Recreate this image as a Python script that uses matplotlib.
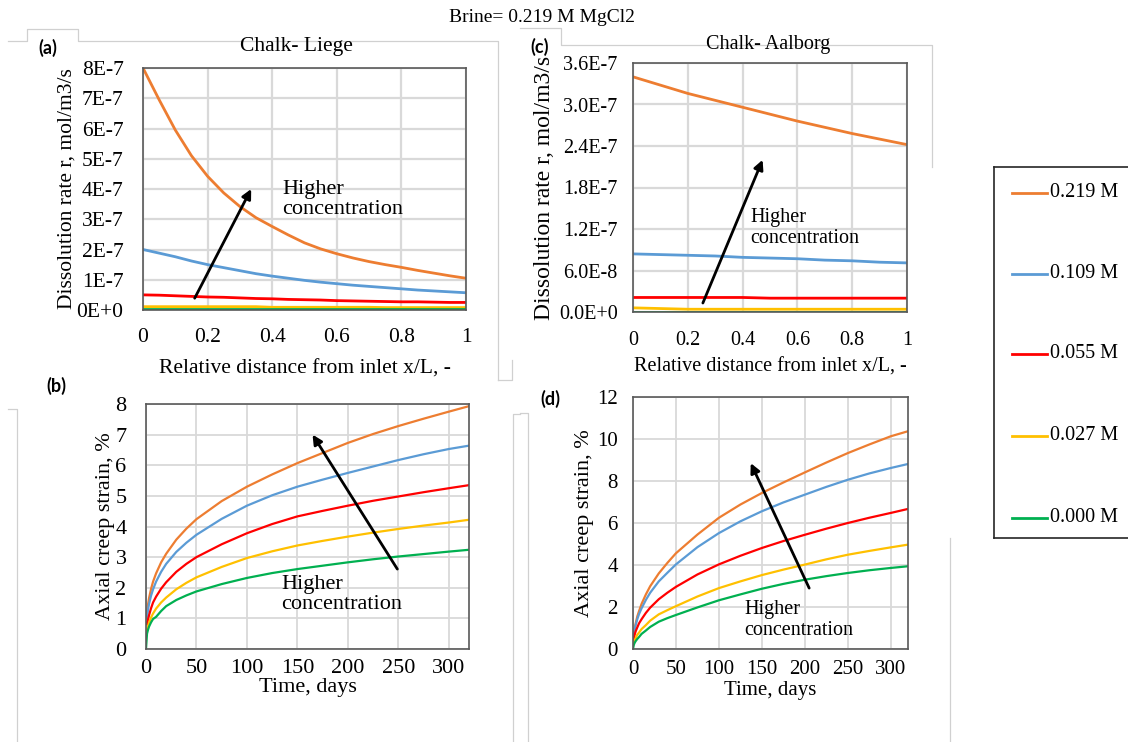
import matplotlib
matplotlib.use("Agg")
import matplotlib.pyplot as plt
from matplotlib.lines import Line2D

W, H = 1128, 742

# series colours / legend
conc_labels = ["0.219 M", "0.109 M", "0.055 M", "0.027 M", "0.000 M"]
colors = ["#ED7D31", "#5B9BD5", "#FF0000", "#FFC000", "#00B050"]

# (a) Chalk- Liege, dissolution rate (x1e-7)
a_x = [0, 0.05, 0.1, 0.15, 0.2, 0.25, 0.3, 0.35, 0.4, 0.45, 0.5,
       0.55, 0.6, 0.65, 0.7, 0.75, 0.8, 0.85, 0.9, 0.95, 1.0]
a_orange = [8.0, 6.95, 5.95, 5.1, 4.42, 3.87, 3.42, 3.05, 2.76, 2.48, 2.22,
            2.02, 1.86, 1.72, 1.6, 1.5, 1.41, 1.31, 1.22, 1.13, 1.05]
a_blue = [2.0, 1.88, 1.76, 1.62, 1.5, 1.4, 1.3, 1.2, 1.12, 1.05, 0.98,
          0.92, 0.87, 0.82, 0.78, 0.74, 0.7, 0.66, 0.63, 0.6, 0.57]
a_red = [0.5, 0.49, 0.47, 0.45, 0.43, 0.42, 0.4, 0.38, 0.37, 0.35, 0.34,
         0.33, 0.31, 0.3, 0.29, 0.28, 0.27, 0.27, 0.26, 0.25, 0.25]
a_yellow = [0.11, 0.11, 0.11, 0.11, 0.11, 0.11, 0.11, 0.11, 0.09, 0.09, 0.09,
            0.09, 0.09, 0.09, 0.09, 0.08, 0.08, 0.08, 0.08, 0.08, 0.08]
a_green = [0.02, 0.02, 0.02, 0.02, 0.02, 0.02, 0.02, 0.02, 0.02, 0.02, 0.02,
           0.02, 0.02, 0.02, 0.02, 0.02, 0.02, 0.02, 0.02, 0.02, 0.02]
a_rate = [a_orange, a_blue, a_red, a_yellow, a_green]

# (c) Chalk- Aalborg, dissolution rate (x1e-7)
c_x = [0, 0.1, 0.2, 0.3, 0.4, 0.5, 0.6, 0.7, 0.8, 0.9, 1.0]
c_orange = [3.40, 3.28, 3.16, 3.06, 2.96, 2.86, 2.76, 2.67, 2.58, 2.50, 2.42]
c_blue = [0.84, 0.83, 0.82, 0.81, 0.79, 0.78, 0.77, 0.75, 0.74, 0.72, 0.71]
c_red = [0.21, 0.21, 0.21, 0.21, 0.21, 0.20, 0.20, 0.20, 0.20, 0.20, 0.20]
c_yellow = [0.06, 0.05, 0.04, 0.04, 0.04, 0.04, 0.04, 0.04, 0.04, 0.04, 0.04]
c_green = [0.005, 0.005, 0.005, 0.005, 0.005, 0.005, 0.005, 0.005, 0.005, 0.005, 0.005]
c_rate = [c_orange, c_blue, c_red, c_yellow, c_green]

# creep time axis, days
t_days = [0, 1, 2, 3, 5, 7, 10, 15, 20, 30, 40, 50, 75, 100,
          125, 150, 175, 200, 225, 250, 275, 300, 320]

# (b) Chalk- Liege, axial creep strain %
b_orange = [1.1, 1.15, 1.45, 1.66, 1.96, 2.2, 2.47, 2.83, 3.11, 3.57, 3.93, 4.24,
            4.83, 5.3, 5.7, 6.07, 6.4, 6.73, 7.02, 7.28, 7.52, 7.75, 7.93]
b_blue = [1.0, 1.05, 1.28, 1.47, 1.74, 1.95, 2.2, 2.52, 2.78, 3.17, 3.47, 3.73,
          4.25, 4.68, 5.02, 5.3, 5.53, 5.75, 5.96, 6.17, 6.36, 6.53, 6.64]
b_red = [0.85, 0.8, 0.97, 1.1, 1.33, 1.52, 1.71, 1.97, 2.18, 2.52, 2.78, 3.0,
         3.42, 3.78, 4.08, 4.33, 4.51, 4.68, 4.84, 4.98, 5.12, 5.25, 5.35]
b_yellow = [0.65, 0.6, 0.75, 0.86, 1.03, 1.16, 1.32, 1.52, 1.68, 1.95, 2.16, 2.34,
            2.68, 2.97, 3.19, 3.38, 3.53, 3.67, 3.8, 3.92, 4.03, 4.13, 4.22]
b_green = [0.0, 0.5, 0.63, 0.73, 0.87, 0.98, 1.05, 1.24, 1.4, 1.6, 1.75, 1.88,
           2.12, 2.32, 2.48, 2.61, 2.72, 2.83, 2.93, 3.02, 3.1, 3.18, 3.24]
b_strain = [b_orange, b_blue, b_red, b_yellow, b_green]

# (d) Chalk- Aalborg, axial creep strain %
d_orange = [0.48, 0.73, 1.0, 1.2, 1.55, 1.8, 2.15, 2.6, 2.99, 3.6, 4.1, 4.56,
            5.45, 6.25, 6.88, 7.43, 7.93, 8.41, 8.88, 9.33, 9.74, 10.13, 10.37]
d_blue = [0.4, 0.68, 0.94, 1.12, 1.42, 1.66, 1.94, 2.34, 2.68, 3.22, 3.63, 4.03,
          4.85, 5.52, 6.08, 6.56, 6.98, 7.35, 7.72, 8.06, 8.36, 8.62, 8.81]
d_red = [0.3, 0.5, 0.69, 0.83, 1.03, 1.22, 1.42, 1.72, 1.97, 2.37, 2.68, 2.96,
         3.55, 4.03, 4.44, 4.81, 5.14, 5.44, 5.73, 6.0, 6.25, 6.48, 6.67]
d_yellow = [0.15, 0.3, 0.42, 0.51, 0.68, 0.78, 0.95, 1.14, 1.35, 1.65, 1.85, 2.04,
            2.5, 2.9, 3.22, 3.52, 3.78, 4.02, 4.27, 4.49, 4.67, 4.84, 4.97]
d_green = [0.0, 0.21, 0.3, 0.37, 0.48, 0.57, 0.72, 0.88, 1.05, 1.3, 1.47, 1.62,
           1.98, 2.32, 2.6, 2.87, 3.1, 3.3, 3.47, 3.62, 3.75, 3.86, 3.94]
d_strain = [d_orange, d_blue, d_red, d_yellow, d_green]

serif = "Liberation Serif"
plt.rcParams["font.family"] = serif

fig = plt.figure(figsize=(W / 100, H / 100), dpi=100)


def rect(l, t, r, b):
    return [l / W, 1 - b / H, (r - l) / W, (b - t) / H]


def fline(xs, ys):
    # light grey frame lines left from the original Excel charts
    fig.add_artist(Line2D([x / W for x in xs], [1 - y / H for y in ys],
                          color="#d0d0d0", lw=0.9))


fline([8, 27, 27, 78, 78, 498, 498], [41, 41, 29, 29, 41, 41, 380])
fline([520, 561, 561, 932, 932], [28, 28, 45, 45, 167])
fline([8, 17, 17], [409, 409, 742])
fline([520, 513, 513], [414, 414, 742])
fline([498, 512, 512], [380, 380, 360])
fline([520, 528, 528], [413, 413, 742])
fline([950, 950], [538, 742])


def style(ax, lw_grid, fs):
    ax.grid(True, color="#d9d9d9", lw=lw_grid)
    ax.set_axisbelow(True)
    for s in ax.spines.values():
        s.set_color("#595959")
        s.set_linewidth(1.2)
    ax.tick_params(length=0, labelsize=fs)


def arrow(ax, start, end):
    ax.annotate("", xy=end, xytext=start,
                arrowprops=dict(arrowstyle="-|>", color="black", lw=2,
                                mutation_scale=14, shrinkA=0, shrinkB=0))


# (a)
ax = fig.add_axes(rect(143, 68, 466, 310))
for y, c in zip(a_rate, colors):
    ax.plot(a_x, [v * 1e-7 for v in y], color=c, lw=2)
ax.set_xlim(0, 1)
ax.set_ylim(0, 8e-7)
ax.set_xticks([0, 0.2, 0.4, 0.6, 0.8, 1])
ax.set_xticklabels(["0", "0.2", "0.4", "0.6", "0.8", "1"])
ax.set_yticks([i * 1e-7 for i in range(9)])
ax.set_yticklabels(["0E+0"] + [f"{i}E-7" for i in range(1, 9)])
style(ax, 1.6, 15.5)
ax.tick_params(axis="x", pad=13)
ax.tick_params(axis="y", pad=14)
ax.set_xlabel("Relative distance from inlet x/L, -", fontsize=15.5, labelpad=9)
ax.set_ylabel("Dissolution rate r, mol/m3/s", fontsize=15.5, labelpad=0)
arrow(ax, (0.16, 0.39e-7), (0.335, 4.0e-7))
ax.text(0.43, 4.3e-7, "Higher\nconcentration", fontsize=16, va="top",
        linespacing=1.05)

# (c)
ax = fig.add_axes(rect(633, 63, 907, 312))
for y, c in zip(c_rate, colors):
    ax.plot(c_x, [v * 1e-7 for v in y], color=c, lw=2)
ax.set_xlim(0, 1)
ax.set_ylim(0, 3.6e-7)
ax.set_xticks([0, 0.2, 0.4, 0.6, 0.8, 1])
ax.set_xticklabels(["0", "0.2", "0.4", "0.6", "0.8", "1"])
c_ticks = [0.0, 0.6, 1.2, 1.8, 2.4, 3.0, 3.6]
ax.set_yticks([v * 1e-7 for v in c_ticks])
ax.set_yticklabels(["0.0E+0", "6.0E-8", "1.2E-7", "1.8E-7", "2.4E-7", "3.0E-7", "3.6E-7"])
style(ax, 1.6, 14.5)
ax.tick_params(axis="x", pad=14)
ax.tick_params(axis="y", pad=11)
ax.set_xlabel("Relative distance from inlet x/L, -", fontsize=14.5, labelpad=5)
ax.set_ylabel("Dissolution rate r, mol/m3/s", fontsize=17, labelpad=0)
ax.yaxis.set_label_coords(-0.285, 0.5)
arrow(ax, (0.255, 0.13e-7), (0.473, 2.2e-7))
ax.text(0.427, 1.5e-7, "Higher\nconcentration", fontsize=14.5, va="top",
        linespacing=1.15)

# (b)
ax = fig.add_axes(rect(146, 404, 469, 649))
for y, c in zip(b_strain, colors):
    ax.plot(t_days, y, color=c, lw=1.6)
ax.set_xlim(0, 320)
ax.set_ylim(0, 8)
ax.set_xticks(range(0, 301, 50))
ax.set_yticks(range(0, 9))
style(ax, 1.3, 16)
ax.tick_params(axis="x", pad=7)
ax.tick_params(axis="y", pad=14)
ax.set_xlabel("Time, days", fontsize=16, labelpad=0)
ax.set_ylabel("Axial creep strain, %", fontsize=16, labelpad=0)
arrow(ax, (249, 2.61), (165, 7.0))
ax.text(134, 2.4, "Higher\nconcentration", fontsize=16, va="top",
        linespacing=1.05)

# (d)
ax = fig.add_axes(rect(633, 397, 908, 649))
for y, c in zip(d_strain, colors):
    ax.plot(t_days, y, color=c, lw=1.6)
ax.set_xlim(0, 320)
ax.set_ylim(0, 12)
ax.set_xticks(range(0, 301, 50))
ax.set_yticks(range(0, 13, 2))
style(ax, 1.3, 15)
ax.tick_params(axis="x", pad=8)
ax.tick_params(axis="y", pad=11)
ax.set_xlabel("Time, days", fontsize=15, labelpad=1)
ax.set_ylabel("Axial creep strain, %", fontsize=16, labelpad=2)
arrow(ax, (205, 2.9), (137, 8.85))
ax.text(130, 2.35, "Higher\nconcentration", fontsize=14.5, va="top",
        linespacing=1.2)

# legend box (cut off at the right edge like the original)
lax = fig.add_axes(rect(994, 167, 1140, 538))
lax.set_xlim(994, 1140)
lax.set_ylim(538, 167)
lax.set_xticks([])
lax.set_yticks([])
for s in lax.spines.values():
    s.set_color("#262626")
    s.set_linewidth(1.2)
legend_y = [193, 274, 354, 436, 518]
for yy, c, lab in zip(legend_y, colors, conc_labels):
    lax.plot([1012, 1047], [yy, yy], color=c, lw=2)
    lax.text(1050, yy, lab, fontsize=14.5, va="center", ha="left")

# figure texts
fig.text(542 / W, 1 - 17 / H, "Brine= 0.219 M MgCl2", fontsize=14,
         ha="center", va="center")
fig.text(296 / W, 1 - 46 / H, "Chalk- Liege", fontsize=15.5, ha="center", va="center")
fig.text(768 / W, 1 - 44 / H, "Chalk- Aalborg", fontsize=14.5, ha="center", va="center")
for lab, x, y in [("(a)", 48, 48), ("(c)", 540, 47), ("(b)", 56, 386), ("(d)", 550, 399)]:
    fig.text(x / W, 1 - y / H, lab, fontsize=13, fontweight="bold",
             family="Lato", ha="center", va="center")

fig.savefig("out.png", dpi=100)
